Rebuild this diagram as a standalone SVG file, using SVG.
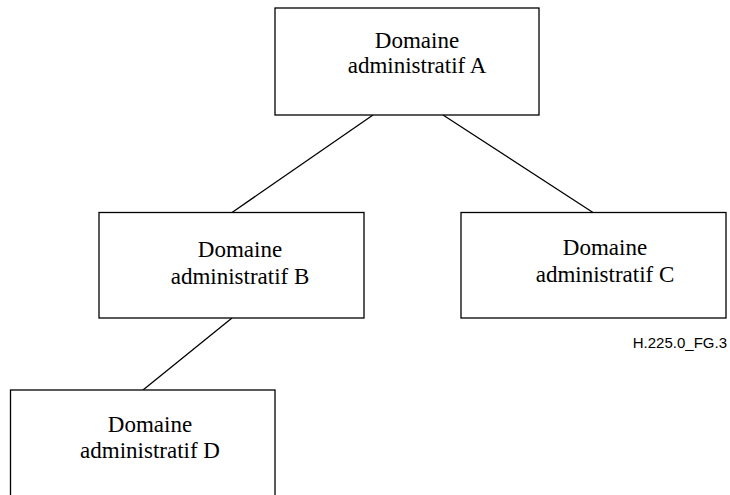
<svg xmlns="http://www.w3.org/2000/svg" width="730" height="495" viewBox="0 0 730 495">
<style>
.box{fill:#fff;stroke:#000;stroke-width:1.3}
.lbl{font-family:"Liberation Serif","Times New Roman",serif;font-size:23px;fill:#000;text-anchor:middle}
.con{stroke:#000;stroke-width:1.3;fill:none}
.ref{font-family:"Liberation Sans",Arial,sans-serif;font-size:15px;fill:#000;text-anchor:end}
</style>
<rect width="730" height="495" fill="#fff"/>
<g id="connectors">
<line class="con" x1="373" y1="115" x2="232" y2="212.5"/>
<line class="con" x1="443" y1="115" x2="593" y2="212.5"/>
<line class="con" x1="232" y1="318" x2="143" y2="390"/>
</g>
<g id="nodeA">
<rect class="box" x="275" y="8" width="264" height="107"/>
<text class="lbl" x="417" y="48">Domaine</text>
<text class="lbl" x="417" y="73">administratif A</text>
</g>
<g id="nodeB">
<rect class="box" x="99" y="212.5" width="265" height="105.5"/>
<text class="lbl" x="240" y="257">Domaine</text>
<text class="lbl" x="240" y="284">administratif B</text>
</g>
<g id="nodeC">
<rect class="box" x="461" y="212.5" width="265" height="105.5"/>
<text class="lbl" x="605" y="255">Domaine</text>
<text class="lbl" x="605" y="282">administratif C</text>
</g>
<g id="nodeD">
<rect class="box" x="10.5" y="390" width="264.5" height="110"/>
<text class="lbl" x="150" y="432">Domaine</text>
<text class="lbl" x="150" y="458">administratif D</text>
</g>
<text class="ref" x="727" y="348">H.225.0_FG.3</text>
</svg>
